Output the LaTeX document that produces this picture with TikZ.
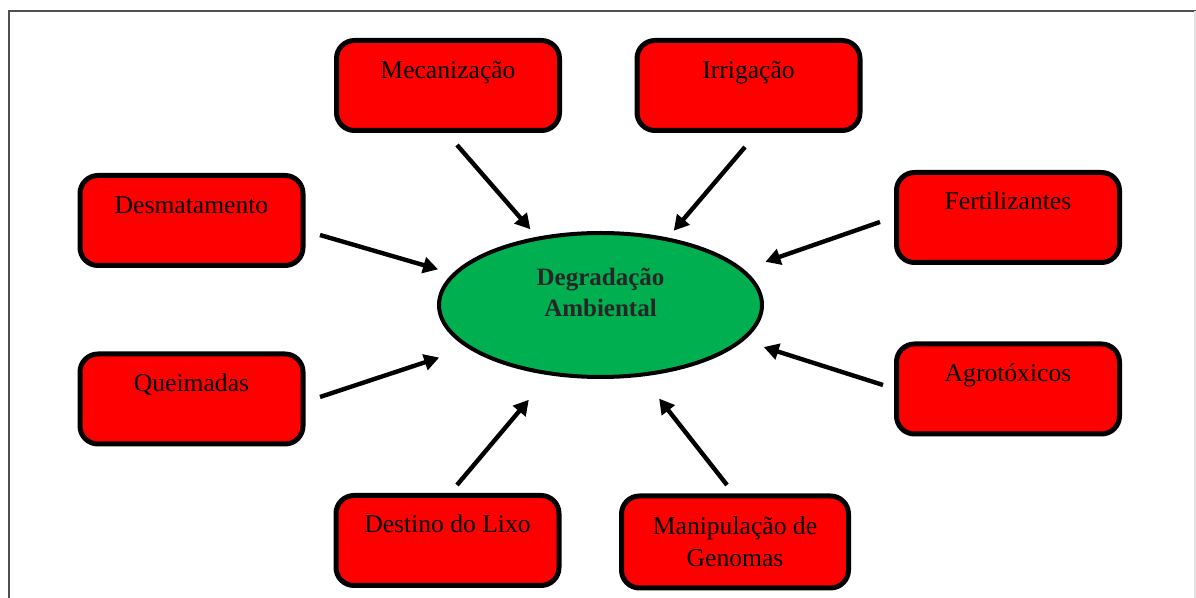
\documentclass[tikz,border=0pt]{standalone}
\usepackage{fontspec}
\setmainfont{Liberation Serif}
\usetikzlibrary{arrows.meta,shapes.geometric}
\definecolor{boxred}{RGB}{255,0,0}
\definecolor{ellgreen}{RGB}{0,176,80}
\definecolor{framegray}{RGB}{80,80,80}
\definecolor{framelight}{RGB}{225,225,225}
\begin{document}
\begin{tikzpicture}[x=0.5pt,y=-0.5pt,
  box/.style={draw=black, fill=boxred, line width=2.5pt, rounded corners=9pt,
    minimum width=111.5pt, minimum height=45pt, inner sep=0pt},
  lbl/.style={font=\fontsize{12.8}{16}\selectfont, text=black, align=center, inner sep=0pt},
  ell/.style={ellipse, draw=black, fill=ellgreen, line width=2pt,
    minimum width=161.5pt, minimum height=72pt, inner sep=0pt},
  dlbl/.style={font=\bfseries\fontsize{12.5}{15.5}\selectfont, text=black!85, align=center, inner sep=0pt},
  arr/.style={line width=2.2pt, -{Triangle[length=7.5pt,width=8pt]}},
]
\useasboundingbox (0,0) rectangle (1196,598);
\fill[white] (0,0) rectangle (1196,598);
% frame
\coordinate (fbl) at (9,598);
\coordinate (ftl) at (9,11);
\coordinate (ftr) at (1196,11);
\coordinate (rtop) at (1195,11);
\coordinate (rbot) at (1195,598);
\draw[framegray, line width=1pt] (fbl) -- (ftl) -- (ftr);
\draw[framelight, line width=0.6pt] (rtop) -- (rbot);

% central ellipse
\node[ell] (deg) at (600.5,305) {};
\node[dlbl] (degT) at ([yshift=6.25pt]deg.center) {Degradação\\Ambiental};

% boxes
\node[box] (mec) at (448,85.5) {};
\node[lbl, anchor=mid] (mecT) at ([yshift=-18pt]mec.north) {Mecanização};
\node[box] (irr) at (748.5,85.5) {};
\node[lbl, anchor=mid] (irrT) at ([yshift=-18pt]irr.north) {Irrigação};
\node[box] (des) at (191.5,220.5) {};
\node[lbl, anchor=mid] (desT) at ([yshift=-18pt]des.north) {Desmatamento};
\node[box] (fer) at (1008,217.5) {};
\node[lbl, anchor=mid] (ferT) at ([yshift=-17.5pt]fer.north) {Fertilizantes};
\node[box] (que) at (191.5,399) {};
\node[lbl, anchor=mid] (queT) at ([yshift=-17.5pt]que.north) {Queimadas};
\node[box] (agr) at (1008,389) {};
\node[lbl, anchor=mid] (agrT) at ([yshift=-17.5pt]agr.north) {Agrotóxicos};
\node[box] (lix) at (447.5,540.5) {};
\node[lbl, anchor=mid] (lixT) at ([yshift=-17.5pt]lix.north) {Destino do Lixo};
\node[box, minimum width=113.5pt, minimum height=46pt] (gen) at (735,542) {};
\node[lbl, anchor=center] (genT) at ([yshift=-24pt]gen.north) {Manipulação de\\Genomas};

% arrows
\coordinate (s1) at (457,145);
\coordinate (s2) at (745,147);
\coordinate (s3) at (320,235);
\coordinate (s4) at (880,222);
\coordinate (s5) at (320,397);
\coordinate (s6) at (883,385);
\coordinate (s7) at (457,485);
\coordinate (s8) at (727,485);
\draw[arr, shorten >=5pt] (s1) -- (deg.133);
\draw[arr, shorten >=4.5pt] (s2) -- (deg.45.4);
\draw[arr, shorten >=7.5pt] (s3) -- (deg.168.9);
\draw[arr, shorten >=11.5pt] (s4) -- (deg.14.9);
\draw[arr, shorten >=15pt] (s5) -- (deg.-162.8);
\draw[arr, shorten >=10.5pt] (s6) -- (deg.-14.2);
\draw[arr, shorten >=16pt] (s7) -- (deg.-126.4);
\draw[arr, shorten >=14pt] (s8) -- (deg.-60.1);
\end{tikzpicture}
\end{document}
